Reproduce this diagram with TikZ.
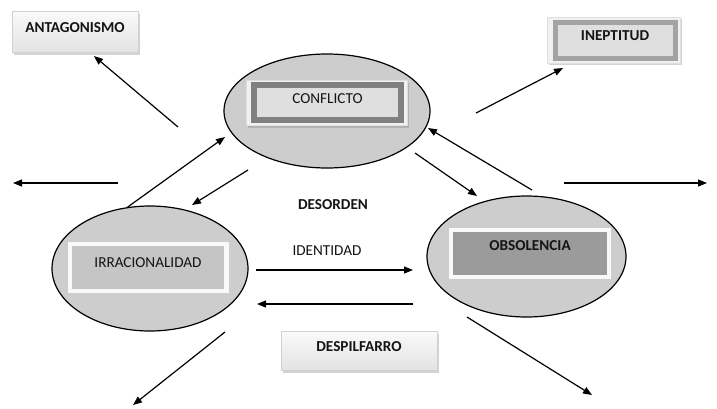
\documentclass[tikz,border=0pt]{standalone}
\usepackage{fontspec}
\setmainfont{Carlito}
\usepackage{xcolor}
\usepackage{tikz}
\usetikzlibrary{arrows, arrows.meta, shapes.geometric, shadows}
\definecolor{ovalfill}{HTML}{CDCDCD}
\definecolor{paper}{HTML}{F1F1F1}
\definecolor{inlight}{HTML}{DFDFDF}
\definecolor{inmid}{HTML}{C5C5C5}
\definecolor{indark}{HTML}{9B9B9B}
\definecolor{framedark}{HTML}{808080}
\definecolor{framemid}{HTML}{A3A3A3}
\definecolor{ink}{HTML}{141414}
\tikzset{
	oval/.style={ellipse, draw=black, line width=1.2pt, fill=ovalfill},
	word/.style={font=\fontsize{15.2}{18}\selectfont, text=ink, text height=10pt, inner sep=0pt},
	boldword/.style={word, font=\fontsize{15.2}{18}\selectfont\bfseries},
	shadebox/.style={draw=gray!35, top color=white!96!gray, bottom color=gray!22, drop shadow={shadow xshift=2pt, shadow yshift=-2.5pt, opacity=.35}},
	paperbox/.style={draw=gray!25, fill=paper, drop shadow={shadow xshift=1.5pt, shadow yshift=-2pt, opacity=.35}},
	arr/.style={-{Triangle[length=9pt, width=7pt]}, line width=1.2pt}
}
\begin{document}
\begin{tikzpicture}[x=1pt, y=-1pt]
	\useasboundingbox (0,0) rectangle (717,408);
	\node[oval, minimum width=206pt, minimum height=114pt] (conflictooval) at (327,111) {};
	\node[oval, minimum width=196pt, minimum height=125pt] (irracionaloval) at (150,268.5) {};
	\node[oval, minimum width=199pt, minimum height=121pt] (obsolenciaoval) at (526.5,256.5) {};
	\node[shadebox, boldword, minimum width=126pt, minimum height=41pt, text depth=9pt] (antagonismo) at (75,31.5) {ANTAGONISMO};
	\node[shadebox, boldword, minimum width=156pt, minimum height=39pt, text depth=9pt] (despilfarro) at (359,350.5) {DESPILFARRO};
	\node[paperbox, minimum width=133pt, minimum height=46pt] (ineptitudbg) at (614,40) {};
	\node[boldword, draw=framemid, line width=5pt, fill=inlight, minimum width=120pt, minimum height=36pt, text depth=10pt] (ineptitud) at (615,40) {INEPTITUD};
	\node[paperbox, minimum width=161pt, minimum height=45pt] (conflictobg) at (327,103) {};
	\node[word, draw=framedark, line width=6pt, fill=inlight, minimum width=147pt, minimum height=35pt, text depth=9pt] (conflicto) at (327.5,102.5) {CONFLICTO};
	\node[word, draw=white!95!gray, line width=4.5pt, fill=inmid, minimum width=156.5pt, minimum height=47pt, text depth=11pt, drop shadow={shadow xshift=1pt, shadow yshift=-2pt, opacity=.3}] (irracionalidad) at (148,267.5) {IRRACIONALIDAD};
	\node[boldword, draw=white!95!gray, line width=4pt, fill=indark, minimum width=158pt, minimum height=47pt, text depth=17pt, drop shadow={shadow xshift=1pt, shadow yshift=-2pt, opacity=.3}] (obsolencia) at (530,253.5) {OBSOLENCIA};
	\node[boldword] (desorden) at (333,205) {DESORDEN};
	\node[word] (identidad) at (327,250) {IDENTIDAD};
	\coordinate (antagonismoout) at (178,127);
	\coordinate (antagonismoin) at (94,56);
	\coordinate (ineptitudout) at (476,113);
	\coordinate (ineptitudin) at (563,68);
	\coordinate (rightout) at (564,183);
	\coordinate (rightin) at (707,183);
	\coordinate (leftout) at (118,183);
	\coordinate (leftin) at (13,183);
	\coordinate (conflictoinleft) at (225,137);
	\coordinate (irracionalout) at (248,170);
	\coordinate (irracionalin) at (192,205);
	\coordinate (obsolenciaout) at (415,153);
	\coordinate (obsolenciain) at (477,196);
	\coordinate (conflictoout) at (532,190);
	\coordinate (conflictoinright) at (428,128);
	\coordinate (identidadout) at (256,270);
	\coordinate (identidadin) at (413,270);
	\coordinate (despilfarroout) at (413,304);
	\coordinate (despilfarroin) at (257,304);
	\coordinate (downleftout) at (225,332);
	\coordinate (downleftin) at (133,405);
	\coordinate (downrightout) at (467,317);
	\coordinate (downrightin) at (592,395);
	\draw[arr] (antagonismoout) -- (antagonismoin);
	\draw[arr] (ineptitudout) -- (ineptitudin);
	\draw[arr] (rightout) -- (rightin);
	\draw[arr] (leftout) -- (leftin);
	\draw[arr] (irracionaloval.110) -- (conflictoinleft);
	\draw[arr] (irracionalout) -- (irracionalin);
	\draw[arr] (obsolenciaout) -- (obsolenciain);
	\draw[arr] (conflictoout) -- (conflictoinright);
	\draw[arr] (identidadout) -- (identidadin);
	\draw[arr] (despilfarroout) -- (despilfarroin);
	\draw[arr] (downleftout) -- (downleftin);
	\draw[arr] (downrightout) -- (downrightin);
\end{tikzpicture}
\end{document}
